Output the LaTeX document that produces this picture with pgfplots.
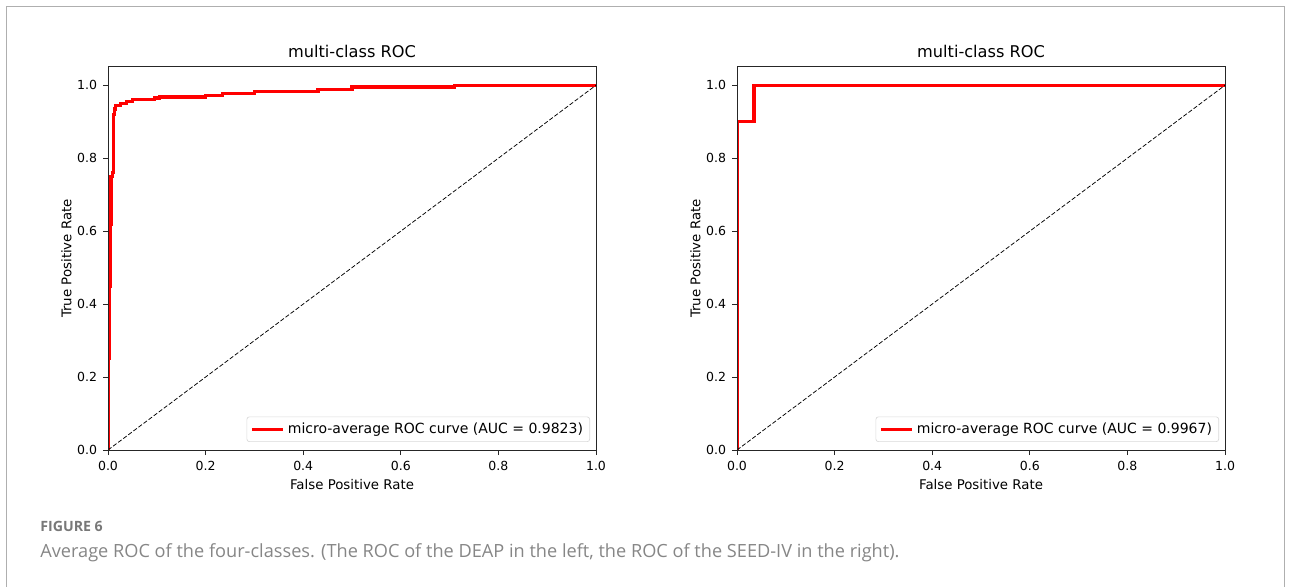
\documentclass[border=0pt]{standalone}
\usepackage{pgfplots}
\pgfplotsset{compat=1.18}
\usepackage{fontspec}
\setmainfont{DejaVu Sans}
\newfontfamily\capfont{Open Sans}
\definecolor{rocRed}{RGB}{255,0,0}
\definecolor{capGray}{RGB}{120,120,120}
\definecolor{frameGray}{RGB}{175,175,175}

\pgfplotstableread{
fpr tpr
0 0
0 0.25
0.002 0.25
0.002 0.30
0.003 0.30
0.003 0.45
0.004 0.45
0.004 0.62
0.006 0.62
0.006 0.75
0.009 0.75
0.009 0.76
0.011 0.76
0.011 0.92
0.013 0.92
0.013 0.935
0.016 0.935
0.016 0.945
0.025 0.945
0.025 0.950
0.038 0.950
0.038 0.955
0.05 0.955
0.05 0.96
0.095 0.96
0.095 0.965
0.105 0.965
0.105 0.968
0.20 0.968
0.20 0.972
0.235 0.972
0.235 0.978
0.30 0.978
0.30 0.983
0.43 0.983
0.43 0.988
0.50 0.988
0.50 0.995
0.71 0.995
0.71 1.0
1.0 1.0
}\deaproc

\pgfplotstableread{
fpr tpr
0 0
0 0.9
0.035 0.9
0.035 1.0
1.0 1.0
}\seedroc

\pgfplotsset{
  rocaxis/.style={
    scale only axis,
    width=292.8pt, height=229.8pt,
    xmin=0, xmax=1, ymin=0, ymax=1.05,
    xtick={0,0.2,...,1.0}, ytick={0,0.2,...,1.0},
    axis on top,
    axis line style={black!85, line width=0.6pt},
    tick style={black!85, line width=0.6pt},
    tick align=outside, major tick length=3pt,
    xtick pos=bottom, ytick pos=left,
    /pgf/number format/.cd, fixed, fixed zerofill, precision=1, assume math mode=true,
    /pgfplots/.cd,
    every axis title shift=0pt,
    ticklabel style={font=\fontsize{7.5}{9}\selectfont},
    label style={font=\fontsize{8}{9.6}\selectfont},
    title style={font=\fontsize{9.7}{11.6}\selectfont, at={(axis description cs:0.5,1.0243)}, anchor=base},
    xlabel style={at={(axis description cs:0.5,-0.1026)}, anchor=base},
    ylabel style={at={(axis description cs:-0.075,0.5)}, anchor=base},
    title={multi-class ROC},
    xlabel={False Positive Rate},
    ylabel={True Positive Rate},
    legend style={at={(axis description cs:0.9877,0.0209)}, anchor=south east,
      draw=black!15, rounded corners=1.5pt, font=\fontsize{8.4}{10}\selectfont,
      inner xsep=2pt, inner ysep=1.5pt},
    legend cell align=left,
    legend image code/.code={\draw[##1] (0pt,0pt) -- (18.6pt,0pt);},
  }
}

\begin{document}
\begin{tikzpicture}
  \useasboundingbox (0,0) rectangle (775.2pt,-352.2pt);
  \draw[frameGray, line width=0.6pt] (3.6pt,-352.2pt) -- (3.6pt,-4.2pt) -- (770.4pt,-4.2pt) -- (770.4pt,-352.2pt);

  \begin{axis}[rocaxis, at={(64.8pt,-270pt)}, anchor=south west]
    \addplot[rocRed, line width=2pt] table[x=fpr, y=tpr] {\deaproc};
    \addlegendentry{micro-average ROC curve (AUC = 0.9823)}
    \addplot[black, line width=0.45pt, dash pattern=on 2.6pt off 1.2pt, forget plot] coordinates {(0,0) (1,1)};
  \end{axis}

  \begin{axis}[rocaxis, at={(442.2pt,-270pt)}, anchor=south west]
    \addplot[rocRed, line width=2pt] table[x=fpr, y=tpr] {\seedroc};
    \addlegendentry{micro-average ROC curve (AUC = 0.9967)}
    \addplot[black, line width=0.45pt, dash pattern=on 2.6pt off 1.2pt, forget plot] coordinates {(0,0) (1,1)};
  \end{axis}

  \node[anchor=base west, inner sep=0pt, text=capGray, font=\capfont\bfseries\fontsize{8.5}{10}\selectfont] at (24pt,-319pt) {FIGURE 6};
  \node[anchor=base west, inner sep=0pt, text=capGray!90, font=\capfont\fontsize{10.9}{13}\selectfont] at (24pt,-334.4pt) {Average ROC of the four-classes. (The ROC of the DEAP in the left, the ROC of the SEED-IV in the right).};
\end{tikzpicture}
\end{document}
